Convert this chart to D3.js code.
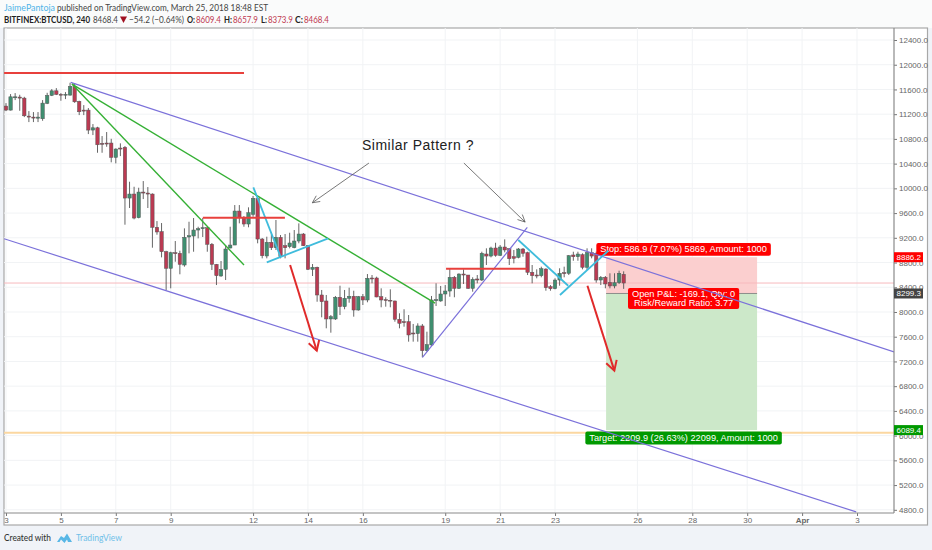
<!DOCTYPE html>
<html>
<head>
<meta charset="utf-8">
<script src="https://cdn.jsdelivr.net/npm/d3@7"></script>
<style>
  html, body { margin: 0; padding: 0; background: #f0f3f8; }
  svg { display: block; }
  text { font-family: "Liberation Sans", Arial, sans-serif; }
  .head text, .foot text { font-family: Lato, sans-serif; }
  .axis text { fill: #666; font-size: 8px; }
  .axis path { display: none; }
  .axis line { stroke: #777; }
</style>
</head>
<body>
<div id="chart"></div>
<script>
// 4h candles, BITFINEX:BTCUSD
const opens = [
  11331,11266,11465,11477,11460,11169,11153,11135,11126,11375,
  11504,11578,11520,11509,11509,11650,11407,11266,11266,10943,
  10980,10728,10733,10733,10501,10652,10663,9843,9908,9525,
  9940,9924,9908,9370,9300,8975,8707,8959,8949,8760,
  9213,9229,9326,9347,9363,9095,8771,8582,8690,9035,
  9083,9633,9525,9423,9580,9838,9180,8906,9127,9040,
  9208,9072,9056,9040,9148,9261,9072,8690,8723,8275,
  8178,7887,7887,8238,8086,8222,8254,8032,8247,8194,
  8550,8550,8247,8199,8189,8178,7882,7843,7843,7660,
  7650,7774,7374,7466,8183,8178,8291,8339,8561,8383,
  8614,8598,8383,8534,8517,8938,8905,9035,8917,9051,
  9024,8894,8884,9019,8959,8642,8598,8587,8695,8409,
  8377,8517,8636,8626,8922,8894,8927,8723,8959,8949,
  8517,8561,8480,8421,8474,8609.4];
const highs = [
  11379,11525,11541,11514,11481,11250,11234,11234,11428,11546,
  11606,11622,11541,11557,11708,11703,11417,11347,11299,11040,
  10996,10846,10911,10802,10647,10728,10684,10107,10026,10010,
  10118,10021,9919,9471,9439,8990,8975,9148,8991,9353,
  9460,9520,9379,9520,9379,9116,8777,8825,9083,9379,
  9730,9730,9552,9693,9876,9843,9197,9218,9293,9488,
  9245,9261,9282,9326,9434,9277,9083,8776,8733,8356,
  8275,7951,8259,8425,8356,8393,8344,8259,8291,8614,
  8598,8571,8383,8238,8367,8183,7979,8044,7951,7806,
  7817,7806,7681,8259,8464,8421,8436,8707,8582,8625,
  8690,8598,8561,8598,8975,9030,9056,9120,9083,9175,
  9035,9003,9035,9035,8975,8760,8690,8733,8707,8436,
  8545,8707,8733,8922,8975,8975,8949,9030,9030,8975,
  8582,8582,8626,8626,8668,8657.9];
const lows = [
  11250,11260,11428,11255,11153,11072,11072,11072,11093,11363,
  11493,11509,11417,11444,11498,11384,11185,11185,10878,10862,
  10576,10576,10673,10421,10404,10522,9412,9682,9499,9515,
  9827,9682,9040,9250,8884,8356,8383,8813,8610,8733,
  8949,8975,9191,9213,8975,8679,8436,8571,8517,9030,
  9083,9434,9379,9370,9541,9111,8868,8868,9003,9003,
  8868,8868,9030,9030,9111,9067,8679,8582,8166,7914,
  7736,7665,7871,7951,8044,8150,7924,8021,8113,8157,
  8464,8238,8076,8086,8076,7843,7736,7762,7520,7520,
  7520,7267,7358,7450,8097,8166,8097,8247,8238,8372,
  8453,8372,8328,8464,8501,8760,8884,8894,8905,8965,
  8760,8787,8868,8894,8598,8464,8545,8561,8344,8344,
  8367,8425,8561,8598,8829,8829,8690,8679,8868,8474,
  8436,8383,8383,8383,8453,8373.9];
const closes = [
  11266,11481,11481,11460,11174,11153,11137,11153,11379,11504,
  11578,11520,11509,11520,11650,11400,11239,11250,10943,10980,
  10705,10712,10717,10501,10636,10636,9843,9908,9520,9940,
  9924,9908,9370,9294,8975,8707,8959,8943,8771,9208,
  9234,9326,9347,9363,9095,8771,8587,8690,9019,9083,
  9633,9525,9423,9606,9838,9180,8910,9127,9040,9208,
  8894,9040,9116,9148,9261,9072,8690,8723,8275,8166,
  7887,7924,8238,8086,8222,8254,8032,8247,8194,8545,
  8534,8243,8194,8189,8178,7882,7817,7827,7628,7644,
  7774,7374,7471,8194,8199,8291,8339,8561,8383,8614,
  8598,8383,8529,8517,8949,8905,9035,8917,9051,9003,
  8862,8868,9019,8949,8642,8587,8582,8700,8393,8377,
  8517,8626,8620,8910,8894,8938,8723,8959,8905,8517,
  8561,8453,8421,8474,8626,8468.4];

const priceTicks = [12400,12000,11600,11200,10800,10400,10000,9600,9200,8800,8400,8000,7600,7200,6800,6400,6000,5600,5200,4800];
const dateTicks = ["2018-03-03","2018-03-05","2018-03-07","2018-03-09","2018-03-12","2018-03-14","2018-03-16","2018-03-19","2018-03-21","2018-03-23","2018-03-26","2018-03-28","2018-03-30","2018-04-01","2018-04-03"];
const dateLabels = ["3","5","7","9","12","14","16","19","21","23","26","28","30","Apr","3"];

// drawings: [days since Mar 3, price]
const channels = [
  [[2.357,11714],[32.35,7353]],
  [[-0.07,9185],[30.97,4766]],
  [[15.17,7267],[18.99,9370]]
];
const greenLines = [
  [[2.404,11687],[8.67,8760]],
  [[2.404,11687],[15.63,8145]]
];
const cyanLines = [
  [[9.01,10016],[10.01,8884]],
  [[9.50,8804],[11.74,9192]],
  [[18.66,9164],[20.48,8425]],
  [[20.18,8275],[21.94,8991]]
];
const redLines = [
  [[-0.07,11865],[8.67,11865]],
  [[7.17,9525],[10.16,9525]],
  [[16.03,8700],[18.97,8700]]
];
const redArrows = [
  [[10.35,8760],[11.32,7374]],
  [[21.18,8425],[22.16,7051]]
];
const noteArrows = [
  [[13.22,10409],[11.16,9767]],
  [[16.68,10409],[18.91,9455]]
];

const lastClose = 8468.4;
const orangeLevel = 6045;
const stopPrice = 8886.2, entryPrice = 8299.3, targetPrice = 6089.4;
const positionDays = [21.86, 27.36];

const width = 932, height = 550;
const plot = { left: 4, top: 28, right: 894, bottom: 513 };
const start = Date.UTC(2018, 2, 3);
const dayToDate = (d) => new Date(start + d * 864e5);

const x = d3.scaleUtc().domain([new Date(start), new Date(Date.UTC(2018, 3, 3))]).range([6, 857]);
const y = d3.scaleLinear().domain([4800, 12400]).range([509.8, 40]);
const px = (p) => [x(dayToDate(p[0])), y(p[1])];

const svg = d3.select("#chart").append("svg").attr("width", width).attr("height", height);

svg.append("rect").attr("width", width).attr("height", 28).attr("fill", "#fafbfb");

// frame
svg.append("rect")
  .attr("x", plot.left).attr("y", plot.top)
  .attr("width", 927.5 - plot.left).attr("height", 525 - plot.top)
  .attr("fill", "#fff").attr("stroke", "#a8a8a8").attr("stroke-width", 1.2);

svg.append("defs").append("clipPath").attr("id", "plot-clip").append("rect")
  .attr("x", plot.left).attr("y", plot.top)
  .attr("width", plot.right - plot.left).attr("height", plot.bottom - plot.top);

const chart = svg.append("g").attr("clip-path", "url(#plot-clip)");

// grid
chart.selectAll(".hgrid").data(priceTicks).enter().append("line")
  .attr("x1", plot.left).attr("x2", plot.right)
  .attr("y1", (d) => y(d)).attr("y2", (d) => y(d))
  .attr("stroke", "#f1f3f5");
chart.selectAll(".vgrid").data(dateTicks).enter().append("line")
  .attr("x1", (d) => x(new Date(d))).attr("x2", (d) => x(new Date(d)))
  .attr("y1", plot.top).attr("y2", plot.bottom)
  .attr("stroke", "#f1f3f5");

// position zones
const zoneX = positionDays.map((d) => x(dayToDate(d)));
chart.append("rect")
  .attr("x", zoneX[0]).attr("width", zoneX[1] - zoneX[0])
  .attr("y", y(stopPrice)).attr("height", y(entryPrice) - y(stopPrice))
  .attr("fill", "#fbcfcf");
chart.append("rect")
  .attr("x", zoneX[0]).attr("width", zoneX[1] - zoneX[0])
  .attr("y", y(entryPrice)).attr("height", y(targetPrice) - y(entryPrice))
  .attr("fill", "#cce8c9");
chart.append("line")
  .attr("x1", zoneX[0]).attr("x2", zoneX[1])
  .attr("y1", y(entryPrice)).attr("y2", y(entryPrice))
  .attr("stroke", "#777").attr("stroke-width", 0.8);

// last price line
chart.append("line")
  .attr("x1", plot.left).attr("x2", plot.right)
  .attr("y1", y(lastClose)).attr("y2", y(lastClose))
  .attr("stroke", "#f7b9bd");

// candles
const candles = opens.map((o, i) => ({
  t: d3.utcHour.offset(new Date(start), i * 4),
  o, h: highs[i], l: lows[i], c: closes[i]
}));
const candle = chart.selectAll(".candle").data(candles).enter().append("g").attr("class", "candle");
candle.append("line")
  .attr("x1", (d) => x(d.t)).attr("x2", (d) => x(d.t))
  .attr("y1", (d) => y(d.h)).attr("y2", (d) => y(d.l))
  .attr("stroke", "#555").attr("stroke-width", 0.9);
candle.append("rect")
  .attr("x", (d) => x(d.t) - 1.7).attr("width", 3.4)
  .attr("y", (d) => y(Math.max(d.o, d.c)))
  .attr("height", (d) => Math.max(0.8, Math.abs(y(d.o) - y(d.c))))
  .attr("fill", (d) => (d.c >= d.o ? "#3f8f70" : "#bb3a52"))
  .attr("stroke", "#555").attr("stroke-width", 0.5);

// orange horizontal
chart.append("line")
  .attr("x1", plot.left).attr("x2", plot.right)
  .attr("y1", y(orangeLevel)).attr("y2", y(orangeLevel))
  .attr("stroke", "#fbd7a0").attr("stroke-width", 2);

// position labels, boxes sized from their text
const labelCx = (zoneX[0] + zoneX[1]) / 2 + 2;
function addLabel(lines, top, fill) {
  const g = svg.append("g");
  const box = g.append("rect").attr("fill", fill).attr("rx", 2);
  const lineH = 8.2;
  const texts = lines.map((s, i) => g.append("text")
    .attr("x", labelCx).attr("y", top + 9.4 + i * lineH)
    .attr("text-anchor", "middle").attr("fill", "#fff")
    .attr("font-size", 9.2).text(s));
  const w = d3.max(texts, (t) => t.node().getComputedTextLength());
  box.attr("x", labelCx - w / 2 - 4).attr("width", w + 8)
    .attr("y", top).attr("height", 12.8 + (lines.length - 1) * lineH);
}
addLabel(["Stop: 586.9 (7.07%) 5869, Amount: 1000"], y(stopPrice) - 14.2, "#ff0000");
addLabel(["Open P&L: -169.1, Qty: 0", "Risk/Reward Ratio: 3.77"], y(entryPrice) - 5.5, "#ff0000");
addLabel(["Target: 2209.9 (26.63%) 22099, Amount: 1000"], y(targetPrice) + 1.5, "#009900");

// drawings sit on top of the labels
const overlay = svg.append("g").attr("clip-path", "url(#plot-clip)");
function drawLines(list, color, w) {
  overlay.selectAll(null).data(list).enter().append("line")
    .attr("x1", (d) => px(d[0])[0]).attr("y1", (d) => px(d[0])[1])
    .attr("x2", (d) => px(d[1])[0]).attr("y2", (d) => px(d[1])[1])
    .attr("stroke", color).attr("stroke-width", w);
}
function drawHeads(list, color, w, len, spread) {
  overlay.selectAll(null).data(list).enter().append("path")
    .attr("d", (d) => {
      const a = px(d[0]), b = px(d[1]);
      const ang = Math.atan2(a[1] - b[1], a[0] - b[0]);
      const wing = (s) => [b[0] + len * Math.cos(ang + s), b[1] + len * Math.sin(ang + s)];
      return d3.line()([wing(spread), b, wing(-spread)]);
    })
    .attr("fill", "none").attr("stroke", color).attr("stroke-width", w);
}
drawLines(channels, "#7b71da", 1.2);
drawLines(greenLines, "#35b035", 1.4);
drawLines(cyanLines, "#3fbcdc", 1.8);
drawLines(redLines, "#e8403c", 2);
drawLines(redArrows, "#e02a2a", 2);
drawHeads(redArrows, "#e02a2a", 2, 11, 0.52);
drawLines(noteArrows, "#555", 0.8);
drawHeads(noteArrows, "#555", 0.8, 8, 0.45);

svg.append("text")
  .attr("x", 418).attr("y", 150)
  .attr("text-anchor", "middle")
  .attr("font-size", 14).attr("fill", "#222").attr("letter-spacing", 0.5)
  .text("Similar Pattern ?");

// axes
const yAxis = svg.append("g").attr("class", "axis")
  .attr("transform", `translate(${plot.right},0)`)
  .call(d3.axisRight(y).tickValues(priceTicks).tickSize(3).tickPadding(2).tickFormat((d) => d3.format(".1f")(d)));
const xAxis = svg.append("g").attr("class", "axis")
  .attr("transform", `translate(0,${plot.bottom})`)
  .call(d3.axisBottom(x).tickValues(dateTicks.map((d) => new Date(d))).tickSize(3).tickPadding(1)
    .tickFormat((d, i) => dateLabels[i]));
xAxis.selectAll("text").filter((d, i) => dateLabels[i] === "Apr").attr("font-weight", "bold");

svg.append("line").attr("x1", plot.right).attr("x2", plot.right)
  .attr("y1", plot.top).attr("y2", plot.bottom).attr("stroke", "#8a8a8a").attr("stroke-width", 1.2);
svg.append("line").attr("x1", plot.left).attr("x2", plot.right)
  .attr("y1", plot.bottom).attr("y2", plot.bottom).attr("stroke", "#8a8a8a").attr("stroke-width", 1.2);

// price tags on the axis
const priceTags = [
  { price: stopPrice, fill: "#ff0000" },
  { price: entryPrice, fill: "#444" },
  { price: targetPrice, fill: "#009900" }
];
const tag = svg.selectAll(".tag").data(priceTags).enter().append("g");
tag.append("rect")
  .attr("x", plot.right).attr("width", 29)
  .attr("y", (d) => y(d.price) - 5).attr("height", 10)
  .attr("fill", (d) => d.fill);
tag.append("text")
  .attr("x", plot.right + 2.5).attr("y", (d) => y(d.price) + 3)
  .attr("font-size", 8).attr("fill", "#fff")
  .text((d) => d.price.toFixed(1));

// header, widths squeezed to what the picture shows
const head = svg.append("g").attr("class", "head");
const headBits = [
  { x: 4, y: 10.5, w: 51, s: "JaimePantoja", c: "#4fb3e8", size: 9.6 },
  { x: 57, y: 10.5, w: 211, s: "published on TradingView.com, March 25, 2018 18:48 EST", c: "#444", size: 9.6 },
  { x: 4, y: 23, w: 86, s: "BITFINEX:BTCUSD, 240", c: "#222", b: true, size: 9 },
  { x: 93, y: 23, w: 25, s: "8468.4", c: "#444", size: 9 },
  { x: 129, y: 23, w: 55, s: "−54.2 (−0.64%)", c: "#444", size: 9 },
  { x: 187, y: 23, w: 8, s: "O:", c: "#222", b: true, size: 9 },
  { x: 196, y: 23, w: 25, s: "8609.4", c: "#c0394f", size: 9 },
  { x: 224, y: 23, w: 8, s: "H:", c: "#222", b: true, size: 9 },
  { x: 233, y: 23, w: 25, s: "8657.9", c: "#c0394f", size: 9 },
  { x: 261, y: 23, w: 6, s: "L:", c: "#222", b: true, size: 9 },
  { x: 268, y: 23, w: 25, s: "8373.9", c: "#c0394f", size: 9 },
  { x: 295, y: 23, w: 8, s: "C:", c: "#222", b: true, size: 9 },
  { x: 304, y: 23, w: 25, s: "8468.4", c: "#c0394f", size: 9 }
];
head.selectAll(".bit").data(headBits).enter().append("text")
  .attr("x", (d) => d.x).attr("y", (d) => d.y)
  .attr("textLength", (d) => d.w).attr("lengthAdjust", "spacingAndGlyphs")
  .attr("font-size", (d) => d.size)
  .attr("font-weight", (d) => (d.b ? "bold" : "normal"))
  .attr("fill", (d) => d.c)
  .text((d) => d.s);
head.append("path").attr("d", "M120,16.5 L127,16.5 L123.5,23 Z").attr("fill", "#a01020");

// footer
const foot = svg.append("g").attr("class", "foot");
foot.append("text").attr("x", 4).attr("y", 541).attr("font-size", 9.6).attr("font-weight", 500).attr("fill", "#333")
  .attr("textLength", 47).attr("lengthAdjust", "spacingAndGlyphs").text("Created with");
foot.append("path")
  .attr("d", "M57,542 L61,536 L64,538 L67,533.5 L72,542 L68,542 L67,539.5 L64.5,543 L61,539.5 L59.5,542 Z")
  .attr("fill", "#58b7e6");
foot.append("text").attr("x", 76).attr("y", 541).attr("font-size", 9.6).attr("fill", "#6fbfe8")
  .attr("textLength", 46).attr("lengthAdjust", "spacingAndGlyphs").text("TradingView");
</script>
</body>
</html>
